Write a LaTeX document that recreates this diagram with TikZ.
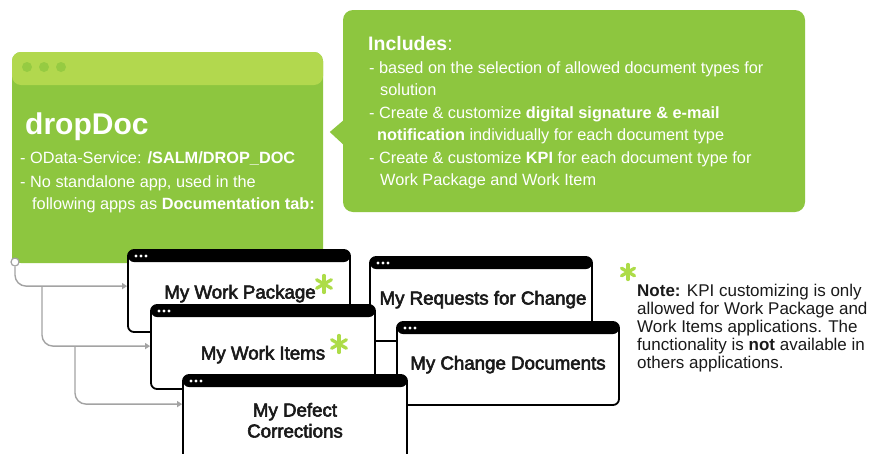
\documentclass[tikz,border=0pt]{standalone}
\usepackage{fontspec}
\setmainfont{Liberation Sans}
\newfontfamily\medfont[FakeBold=3]{Liberation Sans}
\usetikzlibrary{arrows.meta,calc}
\definecolor{sapgreen}{HTML}{8DC63F}
\definecolor{hdrgreen}{HTML}{B2D84E}
\definecolor{dotgreen}{HTML}{96CB42}
\definecolor{stargreen}{HTML}{ADDC48}
\definecolor{conn}{HTML}{A3A3A3}
\definecolor{ink}{HTML}{1A1A1A}
\tikzset{
  win/.style={draw=black, line width=1.8pt, rounded corners=6pt, fill=white, inner sep=0pt,
    path picture={
      \fill[black] (path picture bounding box.north west) rectangle ([yshift=-12pt]path picture bounding box.north east);
      \foreach \dx in {8,13,18}
        \fill[white] ([xshift=\dx pt,yshift=-6pt]path picture bounding box.north west) circle (1.7pt);
    }},
  ddbox/.style={fill=sapgreen, rounded corners=9pt, inner sep=0pt,
    path picture={
      \fill[hdrgreen] (path picture bounding box.north west) rectangle ([yshift=-33pt]path picture bounding box.north east);
      \foreach \dx in {15,32,49}
        \fill[dotgreen] ([xshift=\dx pt,yshift=-15pt]path picture bounding box.north west) circle (5pt);
    }},
  cn/.style={draw=conn, line width=1.4pt, rounded corners=11pt, -{Triangle[length=5pt,width=6pt]}},
  lbl/.style={anchor=base, inner sep=0pt, text=ink, font=\medfont\fontsize{18.7}{22}\selectfont},
  wtxt/.style={anchor=base west, inner sep=0pt, text=white, font=\fontsize{16.3}{20}\selectfont},
  ntxt/.style={anchor=base west, inner sep=0pt, text=ink, font=\fontsize{17}{20}\selectfont},
  pics/gstar/.style={code={
    \foreach \a in {90,30,150}
      \draw[stargreen, line width=3.3pt, line cap=round] (\a:#1) -- (\a+180:#1);
  }},
}
\begin{document}
\begin{tikzpicture}[x=1pt,y=-1pt]
\clip (0,0) rectangle (875,453);
\fill[white] (0,0) rectangle (875,453);

% dropDoc window
\node[ddbox, minimum width=311pt, minimum height=211pt] (dd) at (167.5,157.5) {};
\fill[sapgreen] ([yshift=12pt]dd.south west) rectangle (dd.south east);
\node[anchor=base west, inner sep=0pt, text=white, font=\bfseries\fontsize{30}{33}\selectfont] (ddtitle) at (25,134) {dropDoc};
\node[wtxt] (dd1) at (20,163) {- OData-Service: \textbf{/SALM/DROP\_DOC}};
\node[wtxt] (dd2) at (20,187) {- No standalone app, used in the};
\node[wtxt] (dd3) at (32,209) {following apps as \textbf{Documentation tab:}};

% Includes callout
\node[fill=sapgreen, rounded corners=10pt, minimum width=462pt, minimum height=202pt, inner sep=0pt] (inc) at (574,111) {};
\fill[sapgreen] ([xshift=1pt,yshift=-9pt]inc.west) -- ([xshift=-13pt,yshift=-21pt]inc.west) -- ([xshift=1pt,yshift=-34pt]inc.west) -- cycle;
\node[anchor=base west, inner sep=0pt, text=white, font=\fontsize{19.5}{22}\selectfont] (inc0) at (368,50) {\textbf{Includes}:};
\node[wtxt] (inc1) at (369,73) {- based on the selection of allowed document types for};
\node[wtxt] (inc2) at (380,95) {solution};
\node[wtxt] (inc3) at (369,118) {- Create \& customize \textbf{digital signature \& e-mail}};
\node[wtxt] (inc4) at (377,140) {\textbf{notification} individually for each document type};
\node[wtxt] (inc5) at (369,163) {- Create \& customize \textbf{KPI} for each document type for};
\node[wtxt] (inc6) at (380,185) {Work Package and Work Item};

% application windows
\node[win, minimum width=222pt, minimum height=82pt] (mwp) at (239,291) {};
\node[lbl] (lmwp) at (240,298.5) {My Work Package};
\pic at (324,284) {gstar=8.5pt};

\node[win, minimum width=222pt, minimum height=84pt] (mrfc) at (481,299) {};
\node[lbl] (lmrfc) at (483,304.5) {My Requests for Change};

\node[win, minimum width=224pt, minimum height=84pt] (mwi) at (263,347) {};
\node[lbl] (lmwi) at (263,359.5) {My Work Items};
\pic at (339,344) {gstar=8.5pt};

\node[win, minimum width=222pt, minimum height=83pt] (mcd) at (508,363.5) {};
\node[lbl] (lmcd) at (508,369.5) {My Change Documents};

\node[win, minimum width=224pt, minimum height=95pt] (mdc) at (295,422.5) {};
\node[lbl] (lmdc1) at (295,416.5) {My Defect};
\node[lbl] (lmdc2) at (295,437.5) {Corrections};

% connectors
\node[circle, draw=conn, fill=white, line width=1.2pt, minimum size=8pt, inner sep=0pt] (circ) at (15,262) {};
\draw[cn] (circ.south) |- ([yshift=-37pt]mwp.north west);
\coordinate (b1) at (42,287);
\draw[cn] (b1) |- ([yshift=-42pt]mwi.north west);
\coordinate (b2) at (75,347);
\draw[cn] (b2) |- ([yshift=-30pt]mdc.north west);

% note
\pic at (628,272) {gstar=7.5pt};
\node[ntxt] (n1) at (637,296) {\textbf{Note:} KPI customizing is only};
\node[ntxt] (n2) at (637,314.2) {allowed for Work Package and};
\node[ntxt] (n3) at (637,332.4) {Work Items applications. The};
\node[ntxt] (n4) at (637,350.6) {functionality is \textbf{not} available in};
\node[ntxt] (n5) at (637,368.8) {others applications.};
\end{tikzpicture}
\end{document}
